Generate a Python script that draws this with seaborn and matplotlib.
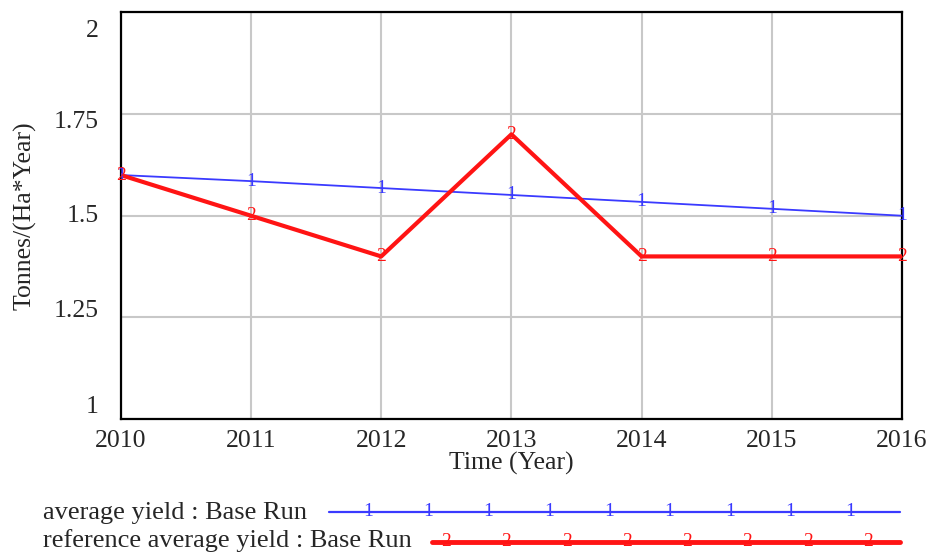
import matplotlib
matplotlib.use("Agg")
import matplotlib.pyplot as plt
import matplotlib.transforms as mtransforms
import seaborn as sns
import pandas as pd
from matplotlib.lines import Line2D

years = [2010, 2011, 2012, 2013, 2014, 2015, 2016]
avg_yield = [1.6, 1.585, 1.568, 1.551, 1.534, 1.517, 1.5]
ref_yield = [1.6, 1.5, 1.4, 1.7, 1.4, 1.4, 1.4]
series_names = ["average yield : Base Run", "reference average yield : Base Run"]
y_ticks = [1, 1.25, 1.5, 1.75, 2]
y_tick_labels = ["1", "1.25", "1.5", "1.75", "2"]

sns.set_theme(style="white")
plt.rcParams["font.family"] = ["Liberation Serif", "DejaVu Serif"]

df = pd.DataFrame({
    "Year": years * 2,
    "value": avg_yield + ref_yield,
    "series": [series_names[0]] * len(years) + [series_names[1]] * len(years),
})

colors = {series_names[0]: "#3a3aff", series_names[1]: "#ff1414"}
widths = {series_names[0]: 1.3, series_names[1]: 3.0}
marks = {series_names[0]: "1", series_names[1]: "2"}
fs = 18.5
mark_fs = 14

fig = plt.figure(figsize=(9.29, 5.56), dpi=100)
ax = fig.add_axes([0.130, 0.246, 0.841, 0.732])

ax.grid(True, color="#c8c8c8", lw=1.5)
ax.set_axisbelow(True)

for name in series_names:
    sub = df[df["series"] == name]
    sns.lineplot(data=sub, x="Year", y="value", ax=ax, color=colors[name],
                 lw=widths[name], legend=False, zorder=3)
    for x, y in zip(sub["Year"], sub["value"]):
        ax.text(x, y, marks[name], color=colors[name], fontsize=mark_fs,
                ha="center", va="center", zorder=4)

ax.set_xlim(2010, 2016)
ax.set_ylim(1, 2)
ax.set_xticks(years)
ax.set_xticklabels([str(y) for y in years], fontsize=fs)
ax.set_yticks(y_ticks)
ax.set_yticklabels(y_tick_labels, fontsize=fs)
ax.tick_params(axis="x", length=0, pad=8)
ax.tick_params(axis="y", length=0, pad=16)
ax.set_xlabel("Time (Year)", fontsize=fs, labelpad=0)
ax.set_ylabel("Tonnes/(Ha*Year)", fontsize=fs, labelpad=12)
for s in ax.spines.values():
    s.set_color("black")
    s.set_linewidth(1.6)

# the y labels are spread inside the axis range, like the original tool does
shift_px = [15, 9, 2, -6, -16]
for lab, dy in zip(ax.get_yticklabels(), shift_px):
    lab.set_transform(lab.get_transform() +
                      mtransforms.ScaledTranslation(0, dy / 100, fig.dpi_scale_trans))

# legend rows beneath the plot
fig.text(43 / 929, 1 - 513 / 556, series_names[0], fontsize=19, va="center", ha="left")
fig.text(43 / 929, 1 - 541 / 556, series_names[1], fontsize=19, va="center", ha="left")
fig.add_artist(Line2D([329 / 929, 900 / 929], [1 - 512 / 556] * 2,
                      color=colors[series_names[0]], lw=1.6))
fig.add_artist(Line2D([432 / 929, 900 / 929], [1 - 542 / 556] * 2,
                      color=colors[series_names[1]], lw=3.5))
for i in range(9):
    fig.text((368 + i * 60.3) / 929, 1 - 512 / 556, "1", color=colors[series_names[0]],
             fontsize=mark_fs, ha="center", va="center")
for i in range(8):
    fig.text((446 + i * 60.3) / 929, 1 - 542 / 556, "2", color=colors[series_names[1]],
             fontsize=mark_fs, ha="center", va="center")

fig.savefig("out.png", dpi=100)
